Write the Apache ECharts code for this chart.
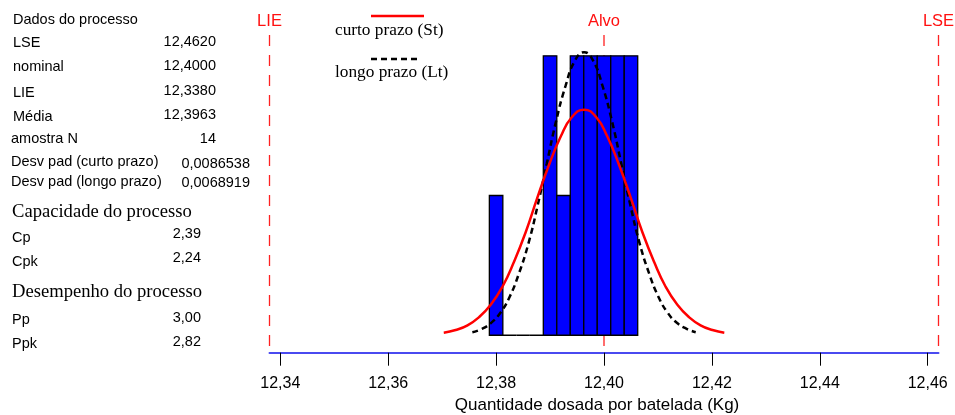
<!DOCTYPE html>
<html>
<head>
<meta charset="utf-8">
<script src="https://cdn.jsdelivr.net/npm/echarts@6/dist/echarts.min.js"></script>
<style>
  html, body { margin: 0; padding: 0; background: #ffffff; }
  #chart { width: 955px; height: 415px; }
</style>
</head>
<body>
<div id="chart"></div>
<script>
// Histogram of the dosed quantity per batch (14 samples)
const binCenters = [12.3800, 12.3825, 12.3850, 12.3875, 12.3900, 12.3925, 12.3950, 12.3975, 12.4000, 12.4025, 12.4050];
const binCounts  = [1, 0, 0, 0, 2, 1, 2, 2, 2, 2, 2];
const binWidth = 0.0025;

// Specification limits and target
const specNames  = ['LIE', 'Alvo', 'LSE'];
const specValues = [12.338, 12.400, 12.462];

// Axis ticks
const tickValues = [12.34, 12.36, 12.38, 12.40, 12.42, 12.44, 12.46];

// Fitted normal curve, short term (St)
const shortTermX = [12.3703, 12.3725, 12.3747, 12.3768, 12.3790, 12.3812, 12.3833, 12.3855, 12.3876, 12.3898, 12.3920, 12.3941, 12.3963,
                    12.3985, 12.4006, 12.4028, 12.4050, 12.4071, 12.4093, 12.4114, 12.4136, 12.4158, 12.4179, 12.4201, 12.4223];
const shortTermY = [0.018, 0.037, 0.071, 0.128, 0.218, 0.349, 0.524, 0.739, 0.979, 1.218, 1.424, 1.564, 1.614,
                    1.564, 1.424, 1.218, 0.979, 0.739, 0.524, 0.349, 0.218, 0.128, 0.071, 0.037, 0.018];

// Fitted normal curve, long term (Lt)
const longTermX = [12.3756, 12.3774, 12.3791, 12.3808, 12.3825, 12.3842, 12.3860, 12.3877, 12.3894, 12.3911, 12.3929, 12.3946, 12.3963,
                   12.3980, 12.3997, 12.4015, 12.4032, 12.4049, 12.4066, 12.4084, 12.4101, 12.4118, 12.4135, 12.4153, 12.4170];
const longTermY = [0.022, 0.046, 0.089, 0.161, 0.274, 0.438, 0.658, 0.928, 1.229, 1.529, 1.788, 1.964, 2.026,
                   1.964, 1.788, 1.529, 1.229, 0.928, 0.658, 0.438, 0.274, 0.161, 0.089, 0.046, 0.022];

// Side panel statistics
const statLabels = ['LSE', 'nominal', 'LIE', 'Média', 'amostra N', 'Desv pad (curto prazo)', 'Desv pad (longo prazo)'];
const statValues = ['12,4620', '12,4000', '12,3380', '12,3963', '14', '0,0086538', '0,0068919'];
const capLabels  = ['Cp', 'Cpk'];
const capValues  = ['2,39', '2,24'];
const perfLabels = ['Pp', 'Ppk'];
const perfValues = ['3,00', '2,82'];

const SANS = '"Liberation Sans", Arial, sans-serif';
const SERIF = '"Liberation Serif", "Times New Roman", serif';
const PANEL_FONT = '14.5px ' + SANS;
const HEAD_FONT = '18.6px ' + SERIF;

// ---- side panel layout ----
const graphics = [];
function addText(text, x, y, font, align) {
  graphics.push({
    type: 'text', x: x, y: y, silent: true,
    style: { text: text, font: font, fill: '#000', align: align || 'left', verticalAlign: 'middle' }
  });
}
const statLabelY = [43, 67, 93, 117, 139, 162, 182];
const statValueY = [42, 66, 91, 115, 139, 164, 183];
const statLabelX = [13, 13, 13, 13, 11, 11, 11];
const statValueX = [216, 216, 216, 216, 216, 250, 250];
addText('Dados do processo', 13, 20, PANEL_FONT);
statLabels.forEach((t, i) => {
  addText(t, statLabelX[i], statLabelY[i], PANEL_FONT);
  addText(statValues[i], statValueX[i], statValueY[i], PANEL_FONT, 'right');
});
addText('Capacidade do processo', 12, 212, HEAD_FONT);
const capLabelY = [238, 262], capValueY = [234, 258];
capLabels.forEach((t, i) => {
  addText(t, 12, capLabelY[i], PANEL_FONT);
  addText(capValues[i], 201, capValueY[i], PANEL_FONT, 'right');
});
addText('Desempenho do processo', 12, 292, HEAD_FONT);
const perfLabelY = [320, 344], perfValueY = [318, 342];
perfLabels.forEach((t, i) => {
  addText(t, 12, perfLabelY[i], PANEL_FONT);
  addText(perfValues[i], 201, perfValueY[i], PANEL_FONT, 'right');
});

// ---- curve key ----
graphics.push({ type: 'line', silent: true, shape: { x1: 371, y1: 16, x2: 424, y2: 16 },
  style: { stroke: '#ff0000', lineWidth: 2.6 } });
addText('curto prazo (St)', 335, 30, '17.3px ' + SERIF);
graphics.push({ type: 'line', silent: true, shape: { x1: 371, y1: 59, x2: 421, y2: 59 },
  style: { stroke: '#000', lineWidth: 2.6, lineDash: [6, 4] } });
addText('longo prazo (Lt)', 335, 72, '17.3px ' + SERIF);

const chart = echarts.init(document.getElementById('chart'), null, { renderer: 'canvas' });

const histData = binCenters.map((c, i) => [c - binWidth / 2, c + binWidth / 2, binCounts[i]]);

chart.setOption({
  animation: false,
  backgroundColor: '#ffffff',
  grid: { left: 269.5, right: 16.5, top: 13.9, bottom: 62.3, outerBoundsMode: 'none', containLabel: false },
  xAxis: {
    type: 'value',
    min: 12.338,
    max: 12.462,
    splitLine: { show: false },
    axisLine: { onZero: false, lineStyle: { color: '#4a4af0', width: 2 } },
    axisTick: { customValues: tickValues, length: 13, lineStyle: { color: '#000', width: 1 } },
    axisLabel: {
      customValues: tickValues, margin: 23,
      color: '#000', fontSize: 16, fontFamily: SANS,
      formatter: v => v.toFixed(2).replace('.', ',')
    },
    name: 'Quantidade dosada por batelada (Kg)',
    nameLocation: 'middle',
    nameGap: 44,
    nameTextStyle: { color: '#000', fontSize: 17, fontFamily: SANS, padding: [0, 14, 0, 0] }
  },
  yAxis: {
    type: 'value', min: -0.125, max: 2.3, show: false,
    splitLine: { show: false }
  },
  graphic: graphics,
  series: [
    {
      // specification lines and target
      type: 'custom', name: 'limites', z: 1, silent: true,
      data: specValues.map((v, i) => [v, i]),
      renderItem: function (params, api) {
        const p = api.coord([api.value(0), 0]);
        const cs = params.coordSys;
        return {
          type: 'group',
          children: [
            { type: 'line', shape: { x1: p[0], y1: 35, x2: p[0], y2: cs.y + cs.height },
              style: { stroke: '#ff2020', lineWidth: 1.3, lineDash: [11, 9] } },
            { type: 'text', x: p[0], y: 21,
              style: { text: specNames[api.value(1)], font: '16.5px ' + SANS, fill: '#ff1010',
                       align: 'center', verticalAlign: 'middle' } }
          ]
        };
      }
    },
    {
      // histogram
      type: 'custom', name: 'histograma', z: 2,
      data: histData,
      encode: { x: [0, 1], y: 2 },
      renderItem: function (params, api) {
        const a = api.coord([api.value(0), api.value(2)]);
        const b = api.coord([api.value(1), 0]);
        return {
          type: 'rect',
          shape: { x: a[0], y: a[1], width: b[0] - a[0], height: b[1] - a[1] },
          style: { fill: '#0000ff', stroke: '#000', lineWidth: 1.3 }
        };
      }
    },
    {
      type: 'line', name: 'curto prazo (St)', z: 4,
      data: shortTermX.map((x, i) => [x, shortTermY[i]]),
      smooth: true, showSymbol: false,
      lineStyle: { color: '#ff0000', width: 2.5 }
    },
    {
      type: 'line', name: 'longo prazo (Lt)', z: 3,
      data: longTermX.map((x, i) => [x, longTermY[i]]),
      smooth: true, showSymbol: false,
      lineStyle: { color: '#000', width: 2.5, type: [6, 4] }
    }
  ]
});
</script>
</body>
</html>
